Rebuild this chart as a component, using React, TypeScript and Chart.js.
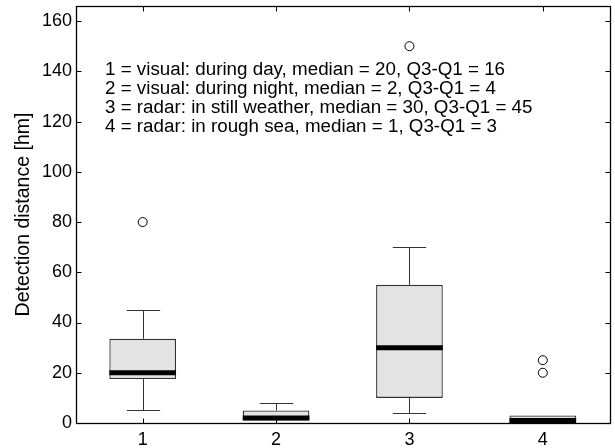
import React, { useEffect, useRef } from 'react';
import { Chart, registerables } from 'chart.js';

Chart.register(...registerables);

// Box-plot statistics per group
const CATEGORIES = ['1', '2', '3', '4'];
const Q1 = [17.5, 1, 10, 0];
const Q3 = [33.5, 5, 55, 3];
const MEDIANS = [20, 2, 30, 1];
const WHISKER_LOW = [5, 0, 4, 0];
const WHISKER_HIGH = [45, 8, 70, 3];
const OUTLIERS = [[80], [], [150], [20, 25]];

const Y_TICKS = [0, 20, 40, 60, 80, 100, 120, 140, 160];
const Y_MAX = 166;
const Y_TITLE = 'Detection distance [hm]';

const NOTE_LINES = [
  '1 = visual: during day, median = 20, Q3-Q1 = 16',
  '2 = visual: during night, median = 2, Q3-Q1 = 4',
  '3 = radar: in still weather, median = 30, Q3-Q1 = 45',
  '4 = radar: in rough sea, median = 1, Q3-Q1 = 3',
];

const FONT_FAMILY = '"Liberation Sans", Arial, Helvetica, sans-serif';
const TICK_FONT_SIZE = 18;
const NOTE_FONT_SIZE = 18.8;
const TITLE_FONT_SIZE = 19.5;

const boxDetails = {
  id: 'boxDetails',
  afterDatasetsDraw(chart: any) {
    const { ctx, chartArea, scales } = chart;
    const x = scales.x;
    const y = scales.y;
    const boxes = chart.getDatasetMeta(0).data;
    ctx.save();

    // whiskers and caps
    ctx.strokeStyle = '#333';
    ctx.lineWidth = 1;
    boxes.forEach((bar: any, i: number) => {
      const cx = Math.round(bar.x) + 0.5;
      const capHalf = bar.width / 4;
      const segs: [number, number][] = [
        [Q3[i], WHISKER_HIGH[i]],
        [Q1[i], WHISKER_LOW[i]],
      ];
      segs.forEach(([from, to]) => {
        if (from === to) return;
        const y0 = y.getPixelForValue(from);
        const y1 = Math.round(y.getPixelForValue(to)) + 0.5;
        ctx.beginPath();
        ctx.moveTo(cx, y0);
        ctx.lineTo(cx, y1);
        ctx.moveTo(cx - capHalf, y1);
        ctx.lineTo(cx + capHalf, y1);
        ctx.stroke();
      });
    });

    // medians
    ctx.strokeStyle = '#000';
    ctx.lineWidth = 5;
    boxes.forEach((bar: any, i: number) => {
      const my = y.getPixelForValue(MEDIANS[i]);
      ctx.beginPath();
      ctx.moveTo(bar.x - bar.width / 2, my);
      ctx.lineTo(bar.x + bar.width / 2, my);
      ctx.stroke();
    });

    // frame
    const l = Math.round(chartArea.left) + 0.5;
    const r = Math.round(chartArea.right) + 0.5;
    const t = Math.round(chartArea.top) + 0.5;
    const b = Math.round(chartArea.bottom) + 0.5;
    ctx.strokeStyle = '#000';
    ctx.lineWidth = 1.3;
    ctx.strokeRect(l, t, r - l, b - t);

    // inward tick marks
    ctx.lineWidth = 1;
    const tl = 5;
    ctx.beginPath();
    Y_TICKS.forEach((v) => {
      const py = Math.round(y.getPixelForValue(v)) + 0.5;
      ctx.moveTo(l, py);
      ctx.lineTo(l + tl, py);
      ctx.moveTo(r, py);
      ctx.lineTo(r - tl, py);
    });
    CATEGORIES.forEach((_c, i) => {
      const px = Math.round(x.getPixelForValue(i)) + 0.5;
      ctx.moveTo(px, b);
      ctx.lineTo(px, b - tl);
      ctx.moveTo(px, t);
      ctx.lineTo(px, t + tl);
    });
    ctx.stroke();

    // description of the groups
    ctx.fillStyle = '#000';
    ctx.font = `${NOTE_FONT_SIZE}px ${FONT_FAMILY}`;
    ctx.textAlign = 'left';
    ctx.textBaseline = 'middle';
    NOTE_LINES.forEach((line, i) => {
      ctx.fillText(line, chartArea.left + 29, chartArea.top + 64 + i * 19);
    });

    ctx.restore();
  },
};

export default function App() {
  const canvasRef = useRef<HTMLCanvasElement | null>(null);

  useEffect(() => {
    const canvas = canvasRef.current;
    if (!canvas) return;

    const outlierPoints: { x: string; y: number }[] = [];
    OUTLIERS.forEach((vals, i) => {
      vals.forEach((v) => outlierPoints.push({ x: CATEGORIES[i], y: v }));
    });

    const chart = new Chart(canvas, {
      type: 'bar',
      data: {
        labels: CATEGORIES,
        datasets: [
          {
            type: 'bar',
            data: CATEGORIES.map((_c, i) => [Q1[i], Q3[i]]),
            backgroundColor: '#e3e3e3',
            borderColor: '#333',
            borderWidth: 1.3,
            borderSkipped: false,
            categoryPercentage: 1,
            barPercentage: 0.5,
            order: 2,
          } as any,
          {
            type: 'line',
            data: outlierPoints as any,
            showLine: false,
            pointStyle: 'circle',
            pointRadius: 4.5,
            pointBorderWidth: 1,
            pointBorderColor: '#000',
            pointBackgroundColor: '#fff',
            order: 1,
          } as any,
        ],
      },
      options: {
        responsive: false,
        animation: false,
        devicePixelRatio: 1,
        layout: { padding: { top: 6, right: 4, left: 0, bottom: 0 } },
        plugins: {
          legend: { display: false },
          tooltip: { enabled: false },
        },
        scales: {
          x: {
            type: 'category',
            offset: true,
            grid: { display: false, drawTicks: false },
            border: { display: false },
            ticks: {
              color: '#000',
              padding: 6,
              font: { size: TICK_FONT_SIZE, family: FONT_FAMILY },
            },
            afterFit: (scale: any) => {
              scale.height = 25;
              scale.paddingLeft = 0;
              scale.paddingRight = 0;
            },
          },
          y: {
            type: 'linear',
            min: 0,
            max: Y_MAX,
            grid: { display: false, drawTicks: false },
            border: { display: false },
            afterBuildTicks: (scale: any) => {
              scale.ticks = Y_TICKS.map((v) => ({ value: v }));
            },
            ticks: {
              color: '#000',
              padding: 4,
              font: { size: TICK_FONT_SIZE, family: FONT_FAMILY },
            },
            title: {
              display: true,
              text: Y_TITLE,
              color: '#000',
              padding: { top: 12, bottom: 0 },
              font: { size: TITLE_FONT_SIZE, family: FONT_FAMILY },
            },
            afterFit: (scale: any) => {
              scale.width = 76;
              scale.paddingTop = 0;
              scale.paddingBottom = 0;
            },
          },
        },
      },
      plugins: [boxDetails],
    });

    return () => chart.destroy();
  }, []);

  return (
    <div style={{ position: 'fixed', left: 0, top: 0, width: 615, height: 448, background: '#fff' }}>
      <canvas ref={canvasRef} width={615} height={448} />
    </div>
  );
}
